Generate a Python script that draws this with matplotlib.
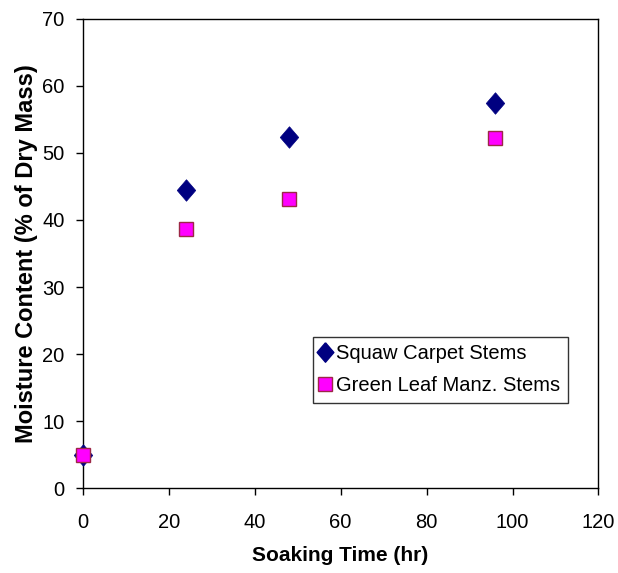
import matplotlib
matplotlib.use("Agg")
import matplotlib.pyplot as plt
from matplotlib.lines import Line2D

plt.rcParams['font.family'] = ['Liberation Sans', 'DejaVu Sans']

soak_time = [0, 24, 48, 96]
squaw_carpet = [5.0, 44.4, 52.3, 57.4]
green_leaf = [5.0, 38.6, 43.1, 52.2]
series_names = ["Squaw Carpet Stems", "Green Leaf Manz. Stems"]
x_ticks = [0, 20, 40, 60, 80, 100, 120]
y_ticks = [0, 10, 20, 30, 40, 50, 60, 70]

fig = plt.figure(figsize=(6.18, 5.73), dpi=100)
ax = fig.add_axes([0.1338, 0.1478, 0.8346, 0.8196])

diamond = [(0, 1), (0.86, 0), (0, -1), (-0.86, 0), (0, 1)]
ax.plot(soak_time, squaw_carpet, linestyle='none', marker=diamond, markersize=15.5,
        markerfacecolor='#000080', markeredgecolor='#000080', markeredgewidth=0.5,
        label=series_names[0], clip_on=False, zorder=3)
ax.plot(soak_time, green_leaf, linestyle='none', marker='s', markersize=10.2,
        markerfacecolor='#FF00FF', markeredgecolor='#9C2846', markeredgewidth=1.0,
        label=series_names[1], clip_on=False, zorder=4)

ax.set_xlim(0, 120)
ax.set_ylim(0, 70)
ax.set_xticks(x_ticks)
ax.set_yticks(y_ticks)
ax.tick_params(direction='out', length=5, width=1, labelsize=14.5, color='black')
ax.tick_params(axis='x', pad=13)
ax.tick_params(axis='y', pad=8)
for s in ax.spines.values():
    s.set_linewidth(1)
    s.set_color('black')

ax.set_xlabel("Soaking Time (hr)", fontsize=15, fontweight='bold', labelpad=10)
ax.set_ylabel("Moisture Content (% of Dry Mass)", fontsize=17, fontweight='bold', labelpad=3)

handles = [
    Line2D([], [], linestyle='none', marker=diamond, markersize=14,
           markerfacecolor='#000080', markeredgecolor='#000080'),
    Line2D([], [], linestyle='none', marker='s', markersize=10.5,
           markerfacecolor='#FF00FF', markeredgecolor='#9C2846'),
]
leg = ax.legend(handles, series_names, loc='upper left', bbox_to_anchor=(0.4459, 0.3228),
                borderaxespad=0, fontsize=14.5, frameon=True, fancybox=False,
                handlelength=0.44, handletextpad=0.33, borderpad=0.38, labelspacing=0.62)
leg.get_frame().set_edgecolor('black')
leg.get_frame().set_linewidth(1)

fig.savefig("out.png", dpi=100)
